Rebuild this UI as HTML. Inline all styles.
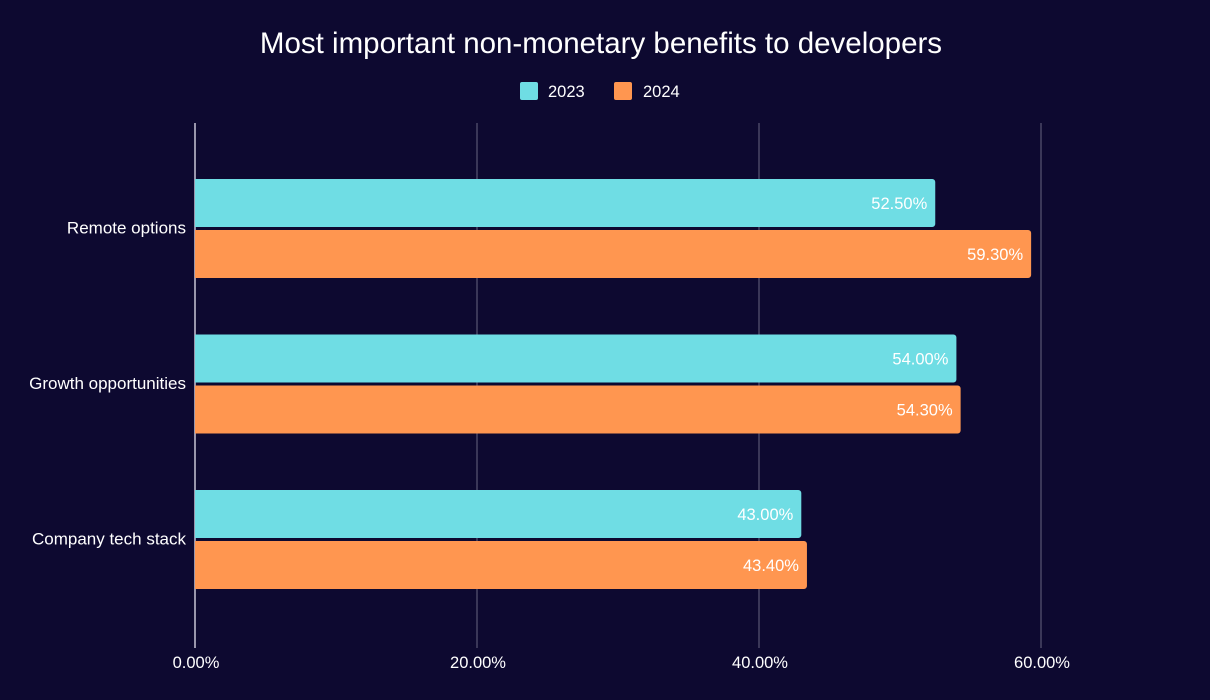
<!DOCTYPE html>
<html><head><meta charset="utf-8"><style>
html,body{margin:0;padding:0;background:#0d0930;}
svg{display:block;font-family:"Liberation Sans",Arial,sans-serif;}
</style></head><body>
<svg id="chart" width="1210" height="700">
<rect width="1210" height="700" fill="#0d0930"/>
<text x="601" y="53" text-anchor="middle" fill="#fff" font-size="29.5">Most important non-monetary benefits to developers</text>
<g>
<g><rect x="520" y="82" width="18" height="18" rx="2" fill="#6fdde4"/><text x="548" y="97" fill="#fff" font-size="16.5">2023</text></g>
<g><rect x="614" y="82" width="18" height="18" rx="2" fill="#ff9650"/><text x="643" y="97" fill="#fff" font-size="16.5">2024</text></g>
</g>
<g id="grid"></g>
<g id="bars"></g>
<g id="labels"></g>
</svg>
<script>
const categories = ["Remote options","Growth opportunities","Company tech stack"];
const values2023 = [52.5, 54.0, 43.0];
const values2024 = [59.3, 54.3, 43.4];
const ticks = [0, 20, 40, 60];
const tickLabels = ["0.00%","20.00%","40.00%","60.00%"];
const NS="http://www.w3.org/2000/svg";
const x0=195, pxPer=(1041-195)/60;
const xs=v=>x0+v*pxPer;
const c0=228.5, step=155.5;
const ys=i=>c0+i*step;
function mk(t,a,p){const e=document.createElementNS(NS,t);for(const k in a)e.setAttribute(k,a[k]);p.appendChild(e);return e;}
const grid=document.getElementById('grid'),bars=document.getElementById('bars'),labels=document.getElementById('labels');
ticks.forEach((t,i)=>{
  const l=mk('line',{x1:xs(t),x2:xs(t),y1:123,y2:648,stroke:t===0?'#c8c6d6':'#4a4766','stroke-width':1.5},grid);
  
  
  const tx=mk('text',{x:xs(t)+1,y:668,'text-anchor':'middle',fill:'#fff','font-size':16.5},labels);
  tx.textContent=tickLabels[i];
  
  
});
function bar(v,y,color,name){
  const w=xs(v)-x0;
  const p=mk('path',{d:`M${x0},${y}h${w-3}a3,3 0 0 1 3,3v42a3,3 0 0 1 -3,3h${-(w-3)}z`,fill:color},bars);
  
  
  const t=mk('text',{x:xs(v)-8,y:y+30,'text-anchor':'end',fill:'#fff','font-size':16.5},bars);
  t.textContent=v.toFixed(2)+'%';
  
  
}
categories.forEach((c,i)=>{
  const cy=ys(i);
  bar(values2023[i],cy-49.5,'#6fdde4','bar-2023');
  bar(values2024[i],cy+1.5,'#ff9650','bar-2024');
  const t=mk('text',{x:186,y:cy+5,'text-anchor':'end',fill:'#fff','font-size':17},labels);
  t.textContent=c;
  
  
});
</script>
</body></html>
